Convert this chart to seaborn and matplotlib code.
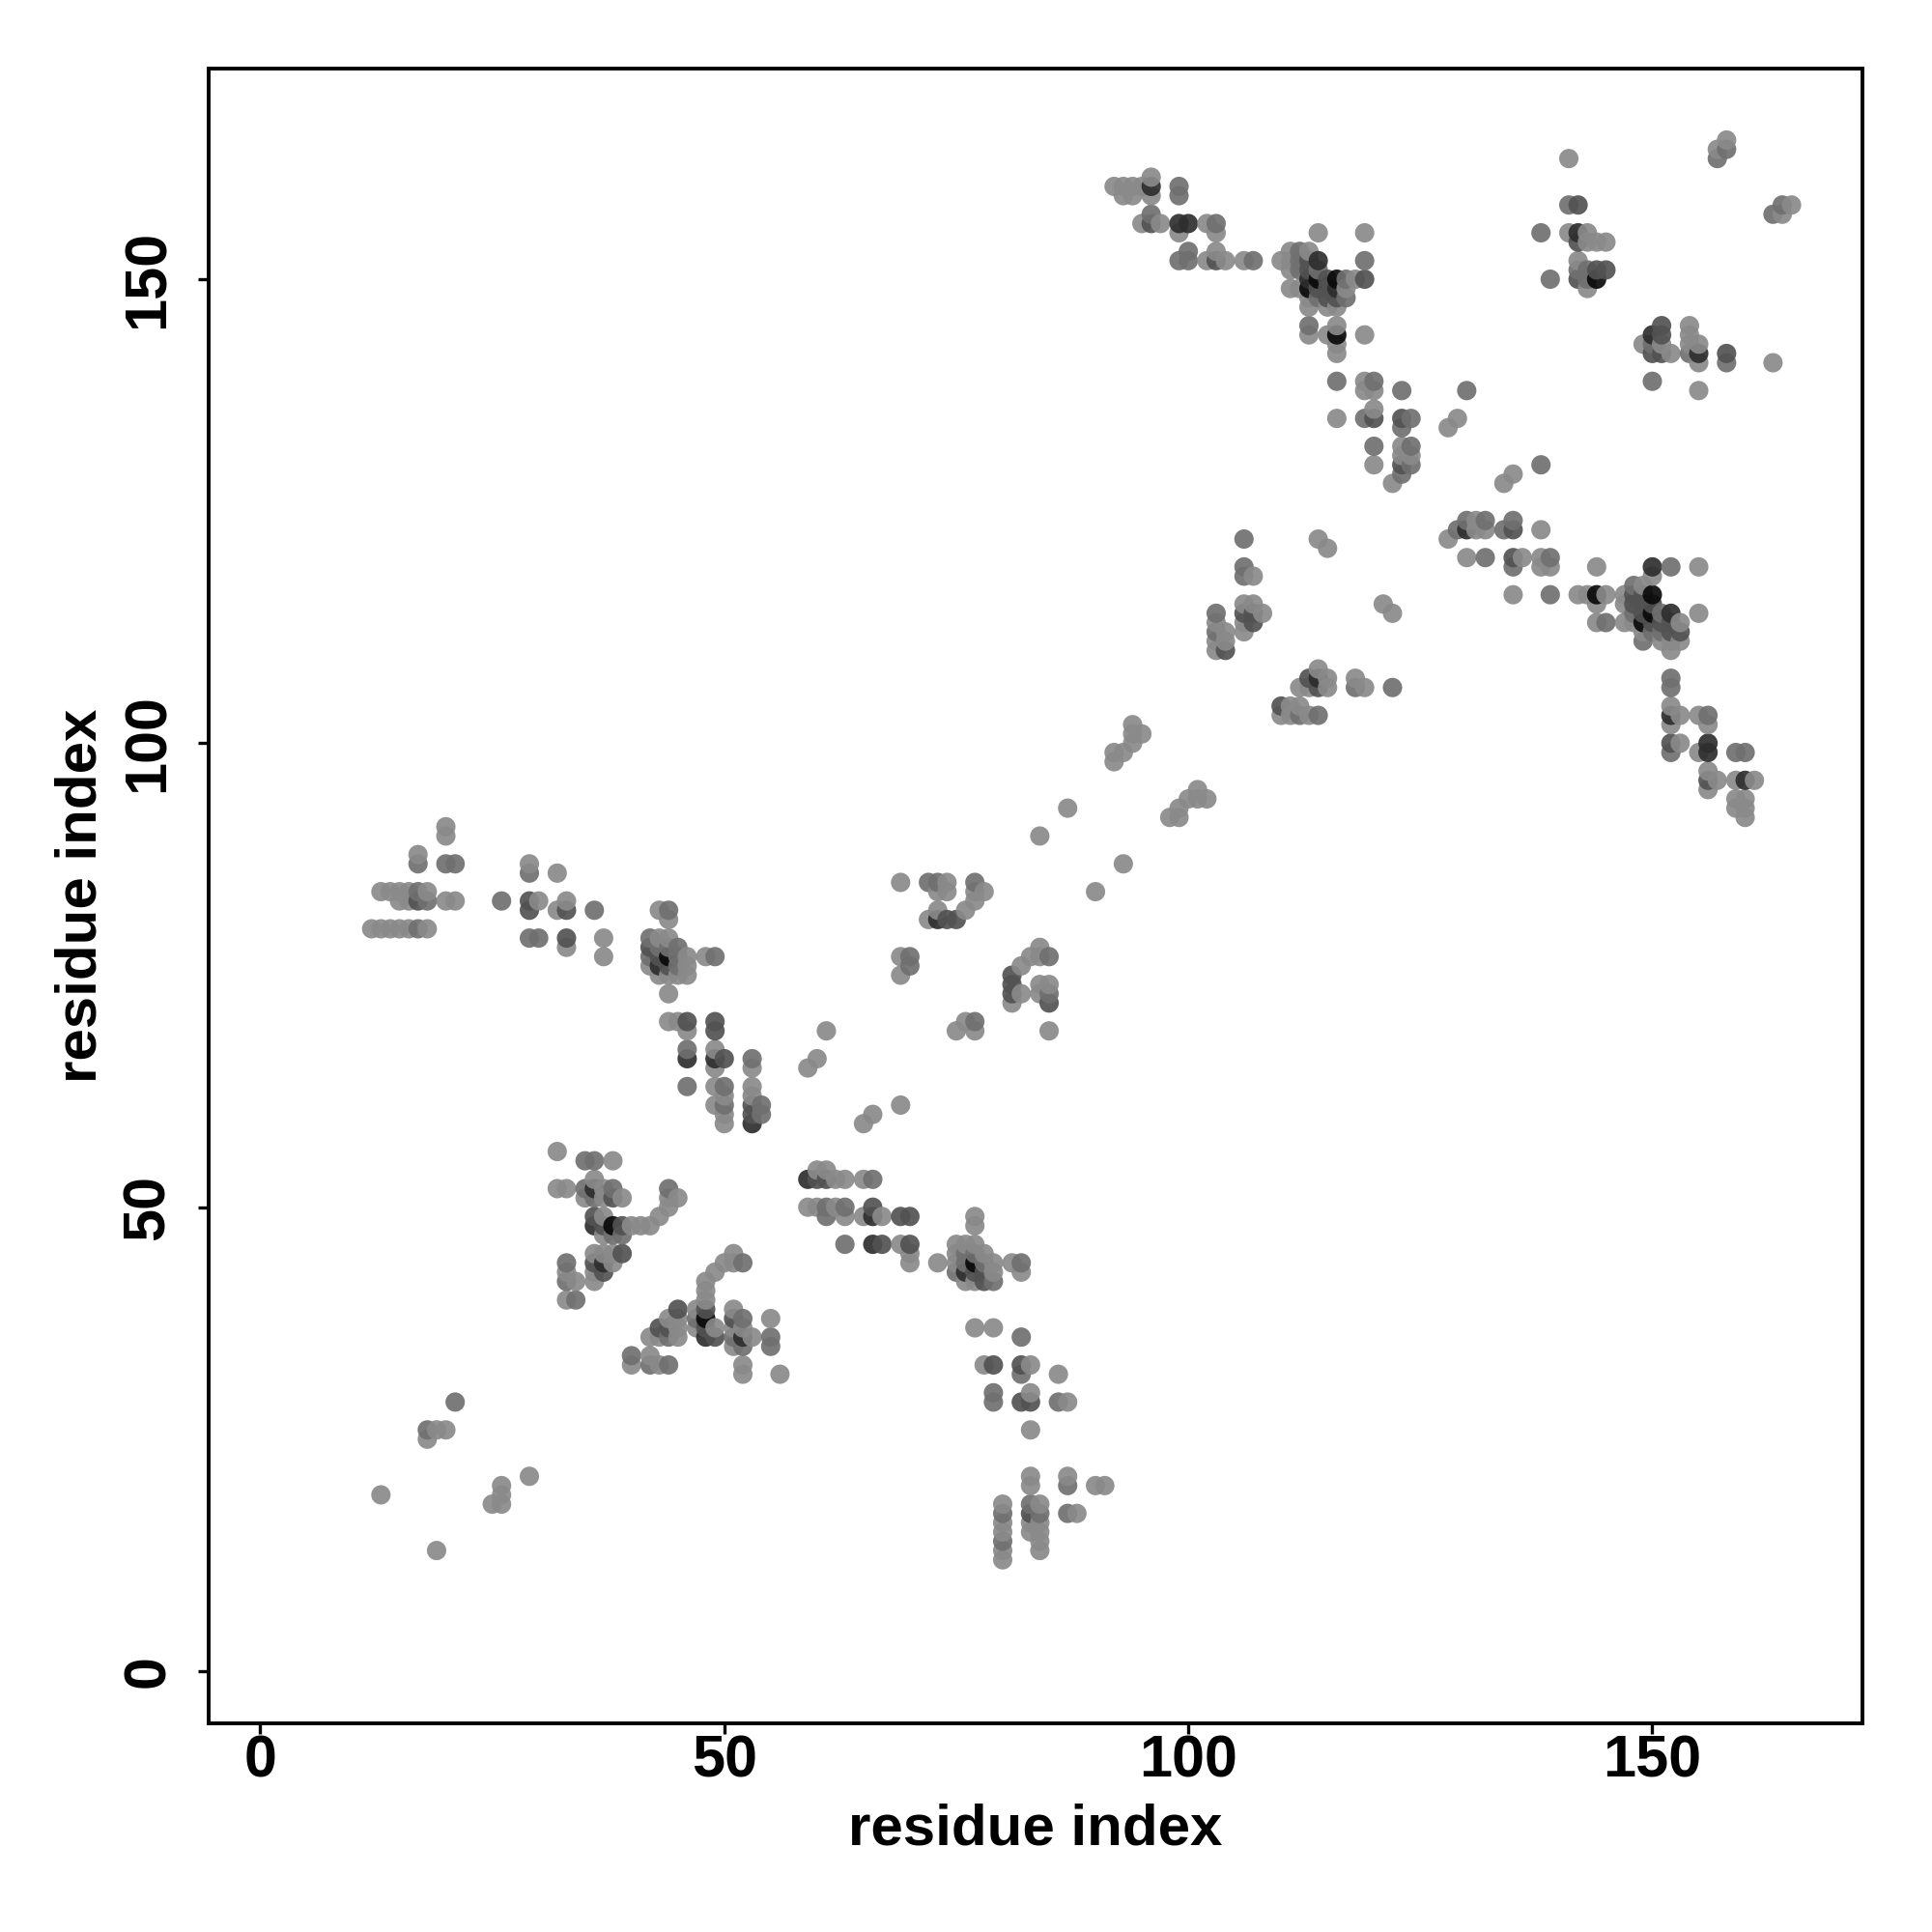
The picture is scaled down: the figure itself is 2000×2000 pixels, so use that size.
import matplotlib
matplotlib.use("Agg")
import matplotlib.pyplot as plt
import pandas as pd
import seaborn as sns

# (residue i, residue j, contact strength level 1..5)
upper_left_a = [(20,91,1),(20,90,1),(17,88,1),(17,87,2),(20,87,2),(21,87,2),
    (13,84,1),(14,84,1),(15,84,1),(16,84,1),(17,84,2),(18,84,1),
    (15,83,1),(16,83,1),(17,83,3),(18,83,2),(20,83,1),(21,83,1),
    (12,80,1),(13,80,1),(14,80,1),(15,80,1),(16,80,1),(17,80,2),(18,80,1),
    (29,87,1),(29,86,2),(32,86,1),(26,83,2),(29,83,3),(30,83,1),(29,82,3),(32,82,1),
    (33,83,1),(33,82,3),(36,82,2),(29,79,2),(30,79,2),(33,79,3),(33,78,1),(37,79,1),(37,77,1)]
upper_left_b = [(43,82,1),(44,82,2),(44,81,1),
    (42,79,2),(42,78,3),(42,77,2),(42,76,1),
    (43,79,1),(43,78,2),(43,77,3),(43,76,4),(43,75,1),
    (44,79,1),(44,78,2),(44,77,5),(44,76,3),(44,75,1),
    (45,78,2),(45,77,2),(45,76,2),(45,75,1),(46,77,1),(46,76,1),(46,75,1),
    (48,77,1),(49,77,2),(44,73,1),(44,70,1),(45,70,1),(46,70,3),(46,69,1),(49,70,3),(49,69,3),
    (46,67,2),(46,66,4),(49,67,1),(49,66,4),(50,66,3),(49,65,1),(53,66,2),(53,65,1),
    (61,69,1),(60,66,1),(59,65,1),(46,63,2),(49,63,1),(50,63,2),(50,62,1),(49,61,1),(50,61,2),
    (50,60,1),(50,59,1),(53,63,1),(53,62,1),(53,61,3),(54,61,2),(53,60,3),(54,60,2),(53,59,4),
    (66,60,1),(65,59,1),(69,61,1)]
middle_left = [(32,56,1),(35,55,2),(36,55,2),(38,55,1),(32,52,1),(33,52,1),(35,52,2),(36,53,1),(36,52,4),
    (38,52,2),(37,52,1),(44,52,2),(35,51,1),(36,51,2),(37,51,1),(38,51,3),(39,51,1),(44,51,1),(45,51,1),
    (44,50,1),(36,49,3),(37,49,1),(43,49,1),(36,48,4),(37,48,3),(38,48,5),(39,48,3),(40,48,1),(41,48,1),(42,48,1),
    (37,47,1),(38,47,2),(39,47,2),(36,45,1),(37,45,1),(38,45,1),(39,45,3),(33,44,2),(36,44,3),(37,44,4),(38,44,1),
    (33,43,1),(36,43,1),(37,43,3),(33,42,2),(34,42,1),(36,42,1),(33,40,1),(34,40,2)]
middle_center = [(51,45,1),(52,44,2),(51,44,1),(50,44,1),(49,43,1),(48,42,1),(48,41,1),(48,40,1),
    (45,39,3),(47,39,1),(48,39,3),(51,39,1),(44,38,1),(45,38,1),(47,38,2),(48,38,5),(51,38,3),(52,38,2),(55,38,1),
    (43,37,3),(44,37,3),(45,37,1),(47,37,1),(48,37,3),(49,37,1),(51,37,1),(52,37,1),
    (42,36,1),(43,36,1),(44,36,2),(45,36,1),(48,36,4),(49,36,3),(51,36,2),(52,36,4),(53,36,1),(55,36,2),
    (51,35,1),(52,35,2),(55,35,2),(40,34,2),(42,34,1),(40,33,1),(42,33,2),(43,33,1),(44,33,2),(52,33,1),(52,32,1),(56,32,1)]
middle_right = [(60,54,1),(61,54,1),(59,53,4),(60,53,3),(61,53,3),(62,53,1),(63,53,1),(65,53,1),(66,53,2),
    (59,50,1),(60,50,1),(61,50,2),(62,50,1),(63,50,2),(66,50,3),(61,49,2),(63,49,1),(65,49,1),(66,49,4),(67,49,1),(69,49,3),(70,49,3),
    (63,46,2),(66,46,4),(67,46,3),(69,46,1),(70,46,3),(70,45,1),(70,44,1),(73,44,1),(77,49,1),(77,48,1),
    (75,46,1),(76,46,1),(77,46,1),(75,45,1),(76,45,2),(77,45,2),(78,45,1),
    (75,44,1),(76,44,2),(77,44,5),(78,44,2),(79,44,1),(75,43,2),(76,43,4),(77,43,3),(78,43,3),(79,43,1),
    (76,42,1),(77,42,1),(78,42,3),(79,42,2),(81,44,1),(82,44,2),(82,43,1)]
lower_right = [(77,37,1),(79,37,1),(82,36,2),(78,33,1),(79,33,3),(82,33,3),(83,33,1),(82,32,2),(86,32,1),
    (79,30,2),(79,29,2),(82,29,3),(83,30,1),(83,29,3),(86,29,2),(87,29,1),(83,26,1),
    (83,21,1),(83,20,1),(87,21,1),(87,20,2),(90,20,1),(91,20,1),
    (80,18,1),(83,18,2),(84,18,1),(80,17,2),(83,17,3),(84,17,2),(87,17,2),(88,17,1),
    (80,16,1),(83,16,1),(84,16,1),(80,15,1),(83,15,1),(84,15,1),(80,14,2),(84,14,1),(80,13,1),(84,13,1),(80,12,1)]
lower_left = [(21,29,2),(18,26,2),(19,26,1),(20,26,1),(18,25,1),(13,19,1),(19,13,1),
    (25,18,1),(26,18,1),(26,19,1),(26,20,1),(29,21,1)]
center = [(69,85,1),(72,85,2),(73,85,2),(74,85,1),(77,85,2),(73,84,1),(74,84,1),(78,84,1),(77,84,1),(77,83,1),
    (73,82,1),(76,82,1),(72,81,1),(73,81,4),(74,81,3),(75,81,3),(69,77,1),(70,77,2),(70,76,2),(69,75,1),
    (84,78,1),(83,77,1),(85,77,2),(84,77,1),(82,76,1),(81,75,3),(81,74,3),(81,73,3),(82,73,1),(81,72,1),
    (84,74,1),(85,74,1),(84,73,1),(85,73,2),(85,72,3),(85,69,1),(76,70,1),(77,70,2),(75,69,1),(77,69,1),
    (84,90,1),(87,93,1),(90,84,1),(93,87,1),(92,98,1),(92,99,1),(93,99,1),(94,100,1),(94,101,1),(94,102,1),(95,101,1),
    (98,92,1),(99,92,1),(99,93,1),(100,94,1),(101,95,1),(101,94,1),(102,94,1)]
upper_center = [(106,122,2),(114,122,1),(115,121,1),(106,119,2),(106,118,2),(107,118,1),(121,115,1),(122,114,1),
    (106,115,1),(107,115,1),(103,114,2),(106,114,3),(107,114,3),(108,114,1),(103,113,1),(106,113,1),(107,113,3),
    (103,112,2),(104,112,1),(106,112,1),(103,111,1),(104,111,1),(103,110,1),(104,110,3),
    (114,108,1),(113,107,3),(114,107,4),(115,107,1),(112,106,1),(113,106,1),(114,106,3),(115,106,1),
    (118,107,1),(118,106,2),(119,106,1),(122,106,2),(110,104,3),(111,104,1),(112,104,1),
    (110,103,1),(111,103,1),(112,103,2),(113,103,1),(114,103,2)]
top_band = [(96,161,1),(96,160,4),(96,159,1),(92,160,1),(93,160,1),(94,160,1),(95,160,1),(93,159,1),(94,159,1),
    (99,160,2),(99,159,2),(96,157,2),(95,156,1),(96,156,3),(97,156,1),(99,156,4),(100,156,4),(102,156,1),(103,156,2),
    (99,155,1),(103,155,1),(114,155,1),(119,155,1),(100,153,2),(103,153,1),
    (99,152,2),(100,152,2),(102,152,1),(103,152,3),(104,152,1),(106,152,1),(107,152,2),(119,152,2),
    (111,153,1),(112,153,2),(113,153,1),(110,152,1),(111,152,1),(112,152,2),(113,152,3),(114,152,4),
    (111,151,1),(112,151,2),(113,151,3),(114,151,2),(113,150,4),(114,150,5),(115,150,3),(116,150,5),(117,150,2),(118,150,1),(119,150,3),
    (111,149,1),(112,149,1),(113,149,5),(114,149,3),(115,149,3),(116,149,4),(117,149,1),
    (113,148,1),(114,148,2),(115,148,3),(116,148,3),(117,148,2),(113,147,1),(115,147,1),(116,147,1),
    (113,145,2),(116,145,1),(113,144,1),(115,144,1),(116,144,5),(119,144,1),(116,143,1),(116,142,1)]
upper_diag = [(116,139,2),(119,139,1),(120,139,2),(119,138,1),(120,138,1),(123,138,2),
    (116,135,1),(119,135,2),(120,135,3),(123,135,3),(124,135,2),(120,136,1),(123,134,2),(129,135,1),(128,134,1),(130,138,2),
    (120,132,2),(120,130,1),(123,132,1),(124,132,2),(123,131,1),(124,131,1),(123,130,3),(124,130,2),(123,129,2),(122,128,1)]
top_right = [(141,163,1),(157,163,2),(157,164,1),(158,164,2),(158,165,1),(141,158,2),(142,158,3),
    (164,158,2),(165,158,1),(163,157,2),(164,157,1),(138,155,2),(141,155,1),(142,155,4),(143,155,1),
    (142,154,3),(143,154,1),(144,154,1),(145,154,1),(142,152,1),(142,151,2),(143,151,2),(144,151,3),(145,151,3),
    (139,150,2),(142,150,3),(143,150,2),(144,150,5),(143,149,1),
    (151,145,3),(154,145,1),(150,144,4),(151,144,3),(154,144,1),(149,143,1),(150,143,2),(151,143,1),(154,143,1),(155,143,1),
    (150,142,3),(151,142,3),(152,142,1),(154,142,2),(155,142,4),(158,142,3),(155,141,1),(158,141,2),(163,141,1),(150,139,2),(155,138,1)]
right_mid = [(138,130,2),(135,129,1),(134,128,1),(130,124,2),(131,124,1),(132,124,2),(135,124,2),(128,122,1),
    (129,123,2),(130,123,4),(131,123,1),(132,123,1),(134,123,2),(135,123,3),(138,123,1),
    (130,120,1),(132,120,2),(135,120,3),(136,120,1),(138,120,1),(139,120,2),(135,119,2),(138,119,1),(139,119,1),(144,119,1),
    (150,119,4),(152,119,2),(155,119,1),(150,118,1),(135,116,1),(139,116,2),(142,116,1),(143,116,1),(144,116,5),(145,116,1),(144,115,1),
    (148,117,2),(149,117,1),(147,116,1),(148,116,3),(149,116,3),(150,116,5),(147,115,1),(148,115,3),(149,115,3),(150,115,3),
    (148,114,2),(149,114,3),(150,114,5),(151,114,2),(152,114,4),(144,113,1),(145,113,2),(147,113,1),(148,113,1),(149,113,5),
    (150,113,3),(151,113,3),(152,113,3),(153,113,1),(149,112,1),(150,112,2),(151,112,2),(152,112,3),(153,112,3),
    (149,111,2),(151,111,1),(152,111,1),(153,111,1),(152,110,1),(155,114,1)]
right_low = [(152,107,2),(152,106,2),(152,104,1),(152,103,4),(153,103,1),(152,102,1),(155,103,1),(156,103,2),(156,102,1),
    (152,100,3),(153,100,1),(152,99,2),(155,99,1),(156,100,4),(156,99,4),(159,99,2),(160,99,2),
    (156,97,1),(156,96,3),(157,96,1),(156,95,1),(159,96,1),(160,96,4),(161,96,1),
    (159,94,1),(160,94,1),(159,93,1),(160,93,1),(160,92,1)]
level_gray = {1: "#8a8a8a", 2: "#707070", 3: "#525252", 4: "#2e2e2e", 5: "#0a0a0a"}
axis_ticks = [0, 50, 100, 150]
axis_label = "residue index"

groups = [upper_left_a, upper_left_b, middle_left, middle_center, middle_right, lower_right, lower_left,
          center, upper_center, top_band, upper_diag, top_right, right_mid, right_low]
rows = [r for g in groups for r in g]
df = pd.DataFrame(rows, columns=["i", "j", "level"]).drop_duplicates(["i", "j"], keep="last").sort_values(["i", "j"])

sns.set_style("white")
plt.rcParams["font.family"] = ["Liberation Sans", "DejaVu Sans"]
plt.rcParams["text.color"] = "black"
plt.rcParams["axes.labelcolor"] = "black"
plt.rcParams["xtick.color"] = "black"
plt.rcParams["ytick.color"] = "black"
fig = plt.figure(figsize=(10, 10), dpi=200)
ax = fig.add_axes([216 / 2000, 1 - 1783.5 / 2000, 1712 / 2000, 1713 / 2000])
sns.scatterplot(data=df, x="i", y="j", hue="level", palette=level_gray, s=52, alpha=0.92,
                linewidth=0, legend=False, ax=ax)
ax.set_xlim(-5.56, 172.64)
ax.set_ylim(-5.57, 172.75)
ax.set_xticks(axis_ticks)
ax.set_yticks(axis_ticks)
ax.tick_params(axis="x", direction="out", length=4, width=1.2, color="black", bottom=True,
               labelsize=22, pad=0.2)
ax.tick_params(axis="y", direction="out", length=4, width=1.2, color="black", left=True,
               labelsize=22, pad=8)
for t in ax.get_xticklabels():
    t.set_fontweight("bold")
for t in ax.get_yticklabels():
    t.set_fontweight("bold")
    t.set_rotation(90)
    t.set_va("center")
for s in ax.spines.values():
    s.set_visible(True)
    s.set_linewidth(1.4)
    s.set_color("black")
ax.set_xlabel(axis_label, fontsize=21.6, fontweight="bold", labelpad=5)
ax.set_ylabel(axis_label, fontsize=21.6, fontweight="bold", labelpad=5)
fig.savefig("out.png", dpi=200, facecolor="white")
